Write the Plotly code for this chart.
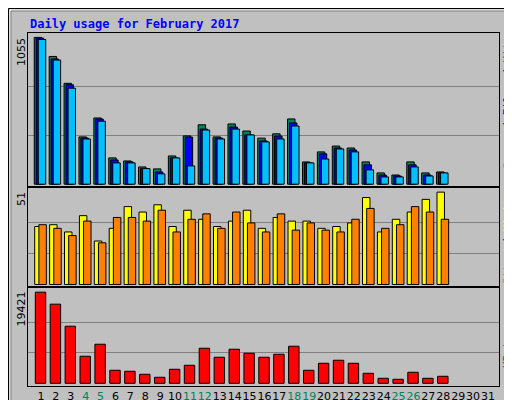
import plotly.graph_objects as go

days = list(range(1, 32))
data_days = list(range(1, 29))
weekend = [4, 5, 11, 12, 18, 19, 25, 26]

hits = [1055, 918, 725, 340, 476, 189, 167, 124, 110, 203, 347, 427, 340, 433, 382, 331,
        362, 469, 160, 232, 274, 260, 160, 81, 66, 160, 81, 88]
files = [1050, 900, 715, 332, 468, 174, 160, 112, 88, 189, 339, 396, 332, 411, 354, 311,
         346, 440, 153, 218, 260, 246, 139, 66, 59, 139, 66, 81]
pages = [1040, 892, 690, 325, 453, 153, 153, 112, 74, 189, 131, 389, 325, 396, 354, 304,
         325, 418, 153, 181, 253, 232, 103, 52, 52, 124, 59, 81]
visits = [32, 33, 29, 38, 24, 31, 43, 40, 44, 32, 41, 36, 32, 35, 41, 31, 37, 35, 35, 31,
          32, 34, 48, 29, 36, 40, 47, 51]
sites = [33, 31, 27, 35, 23, 37, 37, 35, 41, 29, 36, 39, 31, 40, 34, 29, 39, 30, 34, 30,
         29, 36, 42, 31, 33, 43, 40, 36]
kbytes = [19421, 16860, 12165, 5762, 8323, 2774, 2561, 1921, 1280, 2988, 3841, 7470, 5549,
          7256, 6402, 5549, 6189, 7896, 2774, 4268, 4909, 4268, 2134, 1067, 854, 2348, 1067, 1494]

hits_max, visits_max, kb_max = max(hits), max(visits), max(kbytes)
line = dict(color="black", width=1)
mono = "DejaVu Sans Mono"

fig = go.Figure()


def bars(y, color, width, offset, ax):
    fig.add_trace(go.Bar(x=data_days, y=y, width=width, offset=offset,
                         marker=dict(color=color, line=line),
                         xaxis="x" if ax == 1 else "x%d" % ax,
                         yaxis="y" if ax == 1 else "y%d" % ax))


bars(hits, "#00805C", 0.5, -0.45, 1)
bars(files, "#0000FF", 0.5, -0.32, 1)
bars(pages, "#00C0FF", 0.5, -0.18, 1)
bars(visits, "#FFFF00", 0.5, -0.42, 2)
bars(sites, "#FF8000", 0.5, -0.14, 2)
bars(kbytes, "#FF0000", 0.7, -0.38, 3)

xr = [0.13, 31.74]
xcommon = dict(range=xr, showgrid=False, zeroline=False, showline=True, linecolor="black",
               linewidth=1, mirror=True, fixedrange=True)
ticktext = ["<span style='color:%s'>%d</span>" % ("#00805C" if d in weekend else "black", d)
            for d in days]

fig.update_layout(
    width=512, height=400, barmode="overlay", showlegend=False,
    paper_bgcolor="#C0C0C0", plot_bgcolor="#C0C0C0",
    margin=dict(l=20, r=21, t=25, b=22, autoexpand=False),
    font=dict(family="DejaVu Sans", size=11, color="black"),
    xaxis=dict(xcommon, anchor="y", showticklabels=False, ticks=""),
    xaxis2=dict(xcommon, anchor="y2", showticklabels=False, ticks=""),
    xaxis3=dict(xcommon, anchor="y3", tickvals=days, ticktext=ticktext, ticks="",
                tickangle=0, tickfont=dict(size=11)),
    yaxis=dict(domain=[0.567, 1], range=[-12, hits_max * 1.03],
               tickvals=[hits_max / 3, hits_max * 2 / 3], showticklabels=False,
               gridcolor="#808080", zeroline=False, showline=True, linecolor="black", mirror=True),
    yaxis2=dict(domain=[0.283, 0.561], range=[-0.9, visits_max * 1.045],
                tickvals=[visits_max / 3, visits_max * 2 / 3], showticklabels=False,
                gridcolor="#808080", zeroline=False, showline=True, linecolor="black", mirror=True),
    yaxis3=dict(domain=[0, 0.278], range=[-576, kb_max * 1.047],
                tickvals=[kb_max / 3, kb_max * 2 / 3], showticklabels=False,
                gridcolor="#808080", zeroline=False, showline=True, linecolor="black", mirror=True),
)

ann = [
    dict(text="<b>Daily usage for February 2017</b>", x=20, y=16, font=dict(color="#0000FF", size=12, family=mono),
         xanchor="left"),
    dict(text=str(hits_max), x=13, y=28, textangle=-90, yanchor="top"),
    dict(text=str(visits_max), x=13, y=182, textangle=-90, yanchor="top"),
    dict(text=str(kb_max), x=13, y=282, textangle=-90, yanchor="top"),
    dict(text="<span style='color:#00C0FF'>Pages</span> / <span style='color:#0000FF'>Files</span>"
              " / <span style='color:#00805C'>Hits</span>", x=499, y=26, textangle=-90,
         yanchor="top", font=dict(family=mono, size=11)),
    dict(text="<span style='color:#FF8000'>Sites</span> / <span style='color:#FFFF00'>Visits</span>",
         x=499, y=182, textangle=-90, yanchor="top", font=dict(family=mono, size=11)),
    dict(text="<span style='color:#FF0000'>KBytes</span>", x=499, y=318, textangle=-90,
         yanchor="top", font=dict(family=mono, size=11)),
]
for a in ann:
    px, py = a.pop("x"), a.pop("y")
    fig.add_annotation(a, x=(px - 20) / 471, y=(378 - py) / 353, xref="paper", yref="paper",
                       showarrow=False, xanchor=a.get("xanchor", "center"),
                       yanchor=a.get("yanchor", "middle"))


def px2paper(x, y):
    return (x - 20) / 471, (378 - y) / 353


for (x0, y0, x1, y1, c) in [(0.5, 0.5, 511.5, 399.5, "black"), (2, 2, 509, 397, "white"),
                            (3, 3, 508, 396, "#808080")]:
    a0, b0 = px2paper(x0, y0)
    a1, b1 = px2paper(x1, y1)
    fig.add_shape(type="rect", xref="paper", yref="paper", x0=a0, y0=b0, x1=a1, y1=b1,
                  line=dict(color=c, width=1), layer="below")

fig.write_html("out.html")
